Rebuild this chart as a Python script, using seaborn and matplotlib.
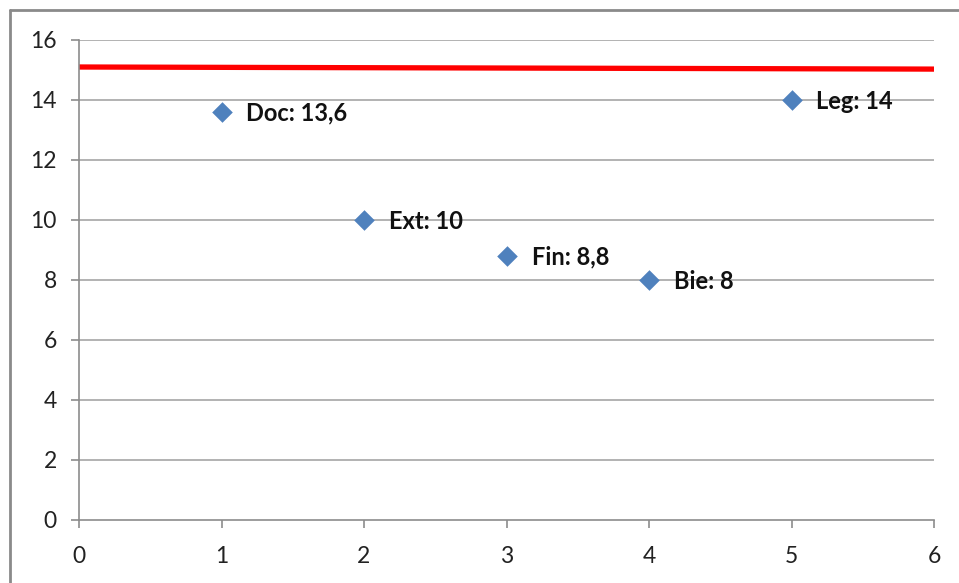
import matplotlib
matplotlib.use("Agg")
import matplotlib.pyplot as plt
import seaborn as sns
import pandas as pd
from matplotlib.lines import Line2D

# Data
x_vals = [1, 2, 3, 4, 5]
y_vals = [13.6, 10, 8.8, 8, 14]
names = ["Doc", "Ext", "Fin", "Bie", "Leg"]
line_x = [0, 6]
line_y = [15.1, 15.03]
x_ticks = [0, 1, 2, 3, 4, 5, 6]
y_ticks = [0, 2, 4, 6, 8, 10, 12, 14, 16]

sns.set_style("white")
plt.rcParams['font.family'] = ['Lato', 'DejaVu Sans']

W, H = 959, 583
fig = plt.figure(figsize=(W / 100, H / 100), dpi=100)
ax = fig.add_axes([79 / W, 1 - 520 / H, (934 - 79) / W, (520 - 40) / H])

df = pd.DataFrame({"x": x_vals, "y": y_vals, "name": names})

grid_c = "#A6A6A6"
for t in y_ticks[1:]:
    ax.axhline(t, color=grid_c, lw=1.2, zorder=0)

sns.lineplot(x=line_x, y=line_y, color="#FF0000", lw=3.8, ax=ax, zorder=2)
sns.scatterplot(data=df, x="x", y="y", marker="D", s=110, color="#4F81BD",
                edgecolor="#4F81BD", linewidth=0, ax=ax, zorder=3, clip_on=False)

for xv, yv, nm in zip(x_vals, y_vals, names):
    lab = f"{nm}: {yv:g}".replace(".", ",")
    ax.annotate(lab, (xv, yv), xytext=(18, -1), textcoords="offset points",
                ha="left", va="center", fontsize=17, fontweight="bold", color="#111111")

ax.set_xlim(0, 6)
ax.set_ylim(0, 16)
ax.set_xticks(x_ticks)
ax.set_yticks(y_ticks)
ax.set_xlabel("")
ax.set_ylabel("")
for s in ["top", "right"]:
    ax.spines[s].set_visible(False)
for s in ["left", "bottom"]:
    ax.spines[s].set_color("#8C8C8C")
    ax.spines[s].set_linewidth(1.2)
ax.tick_params(axis="both", which="both", length=6, width=1.2, color="#8C8C8C",
               labelsize=16.5, labelcolor="#222222", direction="out")
ax.tick_params(axis="y", pad=10, left=True)
ax.tick_params(axis="x", pad=13, bottom=True)

# figure border (cropped chart frame)
bc = "#8A8A8A"
fig.add_artist(Line2D([10 / W, 1], [1 - 10 / H, 1 - 10 / H], color=bc, lw=2))
fig.add_artist(Line2D([10 / W, 10 / W], [0, 1 - 10 / H], color=bc, lw=2))

fig.savefig("out.png", dpi=100)
